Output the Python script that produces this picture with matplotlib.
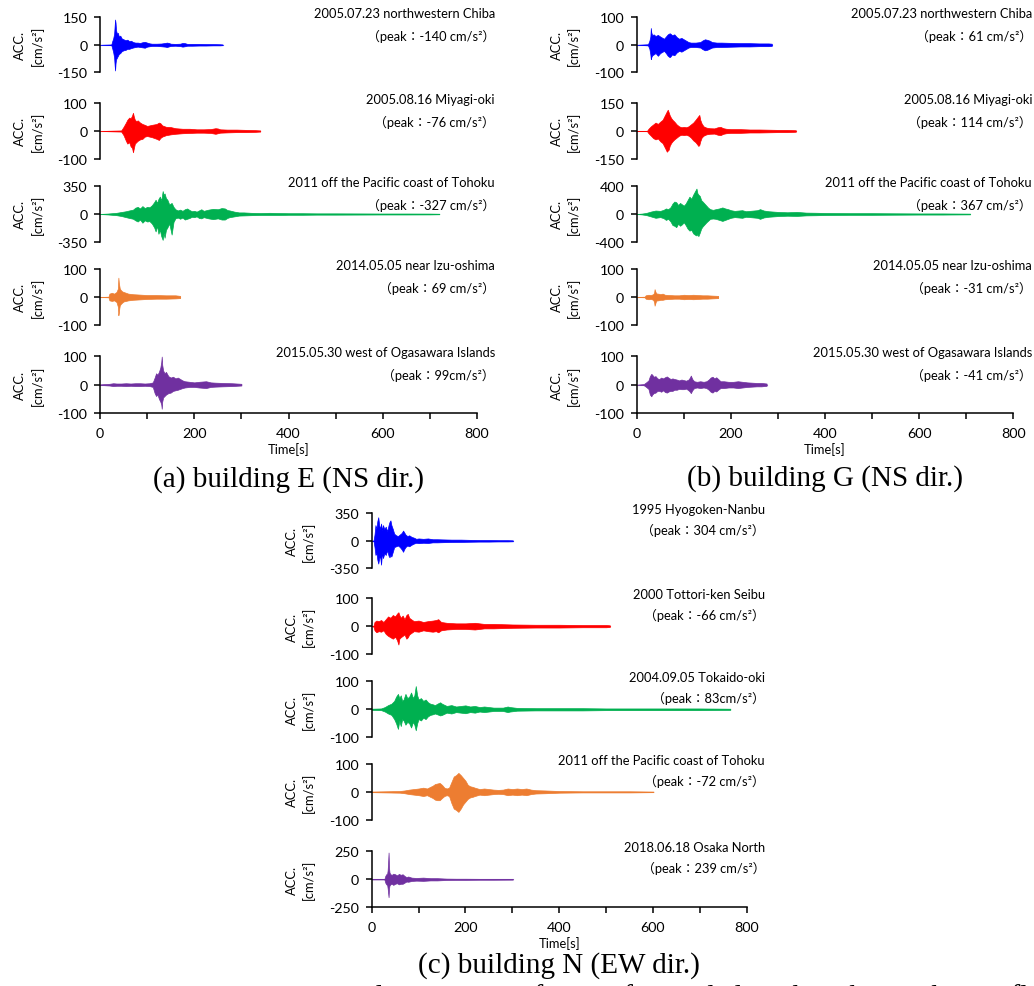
import matplotlib
matplotlib.use("Agg")
import matplotlib.pyplot as plt

W, H = 1034, 987
SANS = ['Lato', 'Noto Sans CJK JP', 'DejaVu Sans']
SERIF = ['Liberation Serif', 'DejaVu Serif']
plt.rcParams['font.family'] = SANS

BLUE, RED, GREEN, ORANGE, PURPLE = '#0000FF', '#FF0000', '#00B050', '#ED7D31', '#7030A0'

# ---------------- (a) building E (NS) ----------------
e1_t = [0, 24, 26, 28, 30, 31, 32, 33, 34, 36, 38, 40, 43, 46, 50, 54, 58, 62, 66, 70, 75, 80, 85, 90, 95, 100, 105, 110, 120, 130, 138, 142, 146, 150, 160, 170, 175, 180, 185, 195, 210, 225, 240, 255, 260]
e1_up = [0, 2, 20, 35, 60, 100, 138, 120, 80, 60, 65, 45, 50, 35, 30, 25, 28, 20, 22, 15, 12, 12, 10, 14, 16, 12, 8, 6, 6, 7, 10, 12, 10, 6, 5, 6, 10, 9, 5, 5, 5, 4, 4, 3, 2]
e1_lo = [0, -2, -20, -40, -70, -110, -140, -100, -80, -70, -60, -50, -45, -35, -30, -28, -22, -22, -18, -15, -12, -10, -12, -14, -16, -10, -8, -6, -6, -8, -10, -12, -9, -6, -5, -7, -10, -8, -5, -5, -4, -4, -3, -3, -2]

e2_t = [0, 45, 50, 55, 58, 62, 65, 68, 70, 72, 74, 77, 80, 85, 90, 95, 100, 110, 120, 125, 128, 132, 140, 150, 160, 175, 190, 205, 220, 235, 245, 250, 255, 270, 290, 310, 330, 340]
e2_up = [0, 2, 15, 30, 40, 48, 45, 55, 65, 50, 40, 35, 38, 30, 25, 22, 18, 22, 25, 30, 28, 20, 15, 14, 10, 8, 8, 6, 6, 7, 10, 9, 6, 5, 5, 4, 3, 2]
e2_lo = [0, -2, -15, -35, -45, -40, -55, -60, -76, -60, -45, -40, -35, -30, -28, -20, -18, -22, -28, -32, -25, -20, -15, -12, -10, -8, -7, -6, -6, -7, -10, -8, -6, -5, -4, -4, -3, -2]

e3_t = [0, 15, 25, 35, 45, 55, 62, 70, 75, 80, 85, 90, 95, 100, 105, 110, 115, 118, 121, 124, 127, 130, 133, 135, 137, 140, 143, 147, 152, 156, 160, 165, 170, 175, 180, 185, 190, 195, 200, 205, 210, 215, 220, 230, 240, 250, 258, 265, 270, 275, 285, 295, 305, 320, 340, 360, 380, 400, 430, 460, 500, 550, 600, 650, 700, 720]
e3_up = [0, 5, 10, 15, 25, 35, 45, 55, 80, 90, 70, 100, 75, 90, 85, 110, 150, 180, 140, 190, 220, 170, 290, 240, 260, 200, 180, 120, 140, 90, 60, 45, 55, 40, 60, 70, 50, 35, 40, 30, 45, 60, 40, 55, 65, 60, 75, 70, 50, 45, 30, 20, 20, 15, 12, 15, 12, 10, 10, 8, 8, 7, 6, 6, 5, 3]
e3_lo = [0, -5, -10, -15, -25, -40, -50, -60, -80, -95, -70, -110, -80, -95, -90, -120, -170, -220, -150, -250, -200, -280, -327, -240, -300, -200, -170, -120, -260, -100, -55, -45, -60, -45, -70, -60, -50, -35, -40, -30, -50, -55, -40, -55, -65, -55, -70, -70, -50, -40, -30, -20, -18, -15, -12, -12, -12, -10, -10, -8, -8, -7, -6, -6, -5, -3]

e4_t = [0, 18, 20, 25, 30, 35, 38, 39, 40, 41, 42, 44, 47, 50, 55, 60, 70, 80, 90, 100, 120, 140, 160, 170]
e4_up = [0, 1, 12, 15, 12, 18, 30, 69, 50, 40, 30, 25, 20, 18, 15, 12, 10, 9, 8, 7, 7, 6, 6, 4]
e4_lo = [0, -1, -12, -14, -12, -18, -35, -65, -55, -40, -30, -25, -20, -16, -14, -12, -10, -9, -8, -7, -6, -6, -5, -4]

e5_t = [0, 10, 20, 28, 35, 45, 55, 65, 75, 85, 95, 105, 112, 116, 119, 122, 125, 128, 130, 131, 132, 134, 137, 140, 145, 150, 155, 160, 165, 170, 175, 180, 190, 200, 210, 225, 230, 235, 245, 260, 280, 300]
e5_up = [1, 2, 3, 5, 4, 4, 5, 4, 5, 5, 4, 5, 8, 25, 40, 35, 45, 60, 80, 99, 70, 50, 40, 45, 30, 25, 28, 22, 25, 20, 15, 12, 10, 8, 10, 12, 10, 8, 7, 6, 5, 3]
e5_lo = [-1, -2, -3, -5, -4, -4, -5, -4, -5, -5, -4, -5, -8, -30, -40, -35, -50, -60, -70, -85, -60, -45, -40, -35, -30, -28, -22, -20, -18, -15, -12, -10, -8, -8, -10, -12, -10, -8, -7, -6, -5, -3]

# ---------------- (b) building G (NS) ----------------
g1_t = [0, 24, 27, 29, 30, 31, 33, 36, 40, 45, 50, 55, 58, 62, 66, 70, 72, 75, 80, 85, 90, 95, 100, 105, 110, 115, 125, 135, 140, 145, 150, 155, 160, 170, 180, 200, 220, 240, 260, 280, 287]
g1_up = [0, 2, 15, 30, 61, 45, 35, 38, 32, 36, 30, 25, 22, 30, 38, 42, 40, 35, 38, 28, 22, 25, 20, 15, 10, 8, 8, 10, 16, 20, 18, 15, 10, 8, 8, 7, 6, 6, 5, 5, 4]
g1_lo = [0, -2, -15, -35, -52, -45, -38, -35, -30, -40, -30, -25, -22, -30, -40, -45, -42, -35, -38, -28, -22, -25, -20, -15, -10, -8, -8, -10, -16, -20, -18, -14, -10, -8, -8, -7, -6, -6, -5, -5, -4]

g2_t = [0, 22, 25, 30, 35, 40, 45, 50, 55, 58, 61, 64, 66, 68, 70, 73, 76, 80, 85, 90, 95, 100, 105, 110, 115, 120, 125, 128, 131, 133, 135, 138, 142, 148, 155, 165, 172, 178, 184, 190, 200, 220, 240, 260, 280, 300, 320, 338]
g2_up = [0, 1, 12, 25, 35, 45, 38, 50, 60, 75, 90, 105, 114, 100, 85, 70, 60, 50, 35, 25, 20, 22, 20, 25, 35, 45, 60, 70, 80, 86, 60, 40, 25, 18, 15, 14, 20, 22, 15, 12, 10, 10, 8, 8, 7, 6, 6, 4]
g2_lo = [0, -1, -12, -25, -38, -45, -40, -55, -65, -80, -95, -111, -105, -100, -80, -65, -55, -45, -35, -25, -20, -22, -20, -25, -35, -50, -60, -70, -80, -75, -55, -35, -25, -18, -15, -14, -20, -22, -15, -12, -10, -10, -8, -8, -7, -6, -6, -4]

g3_t = [0, 10, 20, 30, 40, 50, 57, 62, 67, 72, 76, 80, 84, 88, 92, 96, 100, 104, 108, 112, 116, 120, 124, 127, 129, 131, 134, 137, 140, 144, 148, 152, 156, 162, 168, 175, 182, 188, 194, 200, 208, 216, 224, 232, 240, 248, 256, 262, 270, 280, 300, 320, 340, 360, 380, 400, 450, 500, 550, 600, 650, 708]
g3_up = [0, 5, 15, 35, 50, 45, 60, 80, 70, 100, 150, 180, 170, 130, 160, 140, 120, 150, 200, 250, 220, 280, 330, 367, 300, 280, 260, 200, 180, 150, 120, 90, 70, 60, 70, 80, 95, 80, 70, 55, 45, 50, 55, 40, 45, 50, 55, 70, 50, 40, 30, 25, 30, 20, 18, 15, 12, 12, 10, 8, 8, 5]
g3_lo = [0, -5, -15, -35, -55, -45, -60, -85, -70, -110, -160, -170, -190, -140, -170, -150, -120, -160, -210, -240, -230, -280, -300, -310, -290, -320, -270, -210, -180, -150, -120, -95, -70, -65, -70, -85, -100, -85, -70, -55, -45, -50, -55, -40, -45, -50, -55, -70, -50, -40, -30, -25, -28, -20, -18, -15, -12, -12, -10, -8, -8, -5]

g4_t = [0, 17, 19, 25, 30, 35, 37, 38, 39, 40, 41, 43, 46, 50, 55, 60, 70, 80, 90, 100, 110, 120, 130, 140, 150, 160, 173]
g4_up = [0, 1, 6, 8, 7, 10, 15, 28, 22, 18, 15, 12, 12, 10, 12, 8, 7, 6, 6, 8, 7, 8, 7, 6, 6, 5, 4]
g4_lo = [0, -1, -6, -8, -7, -10, -18, -31, -25, -20, -15, -12, -12, -10, -10, -8, -7, -6, -6, -8, -7, -8, -7, -6, -6, -5, -4]

g5_t = [0, 15, 20, 25, 28, 31, 33, 36, 40, 44, 48, 52, 56, 60, 64, 68, 72, 76, 80, 85, 90, 95, 100, 105, 110, 113, 115, 118, 122, 128, 135, 142, 148, 153, 157, 161, 165, 169, 173, 178, 185, 195, 205, 215, 225, 235, 245, 255, 265, 276]
g5_up = [0, 2, 8, 15, 30, 38, 35, 28, 30, 22, 20, 25, 22, 26, 29, 24, 20, 22, 20, 18, 15, 18, 16, 14, 18, 25, 32, 20, 12, 10, 12, 10, 12, 18, 25, 28, 22, 26, 20, 12, 12, 10, 10, 12, 10, 8, 7, 6, 6, 4]
g5_lo = [0, -2, -8, -15, -35, -41, -35, -30, -28, -22, -22, -25, -20, -26, -28, -24, -22, -22, -18, -18, -15, -16, -16, -14, -20, -25, -30, -20, -12, -10, -12, -10, -12, -18, -25, -28, -22, -24, -18, -12, -12, -10, -10, -12, -10, -8, -7, -6, -6, -4]

# ---------------- (c) building N (EW) ----------------
n1_t = [0, 4, 6, 8, 10, 12, 14, 16, 18, 20, 22, 24, 27, 30, 33, 36, 38, 40, 42, 45, 48, 52, 56, 60, 64, 67, 69, 72, 76, 80, 85, 90, 95, 100, 110, 120, 130, 140, 150, 170, 190, 210, 230, 250, 270, 290, 301]
n1_up = [0, 5, 80, 200, 150, 250, 300, 200, 150, 220, 130, 200, 150, 180, 120, 200, 240, 260, 200, 150, 90, 70, 60, 80, 100, 130, 110, 80, 60, 70, 50, 40, 25, 30, 25, 30, 20, 20, 18, 15, 15, 12, 10, 10, 8, 8, 6]
n1_lo = [0, -5, -80, -180, -150, -240, -290, -220, -200, -304, -150, -220, -160, -180, -120, -190, -210, -180, -200, -140, -80, -70, -60, -80, -110, -140, -110, -80, -60, -70, -50, -35, -25, -30, -25, -28, -20, -20, -18, -15, -14, -12, -10, -10, -8, -8, -6]

n2_t = [0, 4, 6, 10, 15, 20, 25, 30, 35, 40, 45, 50, 54, 57, 59, 62, 66, 70, 74, 77, 80, 84, 90, 100, 110, 120, 130, 137, 142, 148, 160, 180, 200, 220, 240, 260, 280, 300, 350, 400, 450, 500, 508]
n2_up = [0, 2, 15, 20, 18, 22, 15, 25, 35, 30, 40, 35, 45, 50, 40, 30, 38, 25, 40, 44, 30, 25, 18, 20, 15, 18, 20, 22, 25, 15, 12, 10, 10, 12, 8, 8, 7, 6, 5, 5, 4, 4, 3]
n2_lo = [0, -2, -15, -22, -18, -20, -15, -28, -35, -40, -45, -38, -50, -66, -45, -40, -35, -30, -45, -40, -30, -25, -18, -20, -15, -18, -20, -18, -22, -15, -12, -10, -10, -12, -8, -8, -7, -6, -5, -5, -4, -4, -3]

n3_t = [0, 20, 28, 35, 42, 48, 52, 56, 59, 62, 65, 68, 72, 76, 80, 84, 88, 91, 94, 97, 100, 105, 110, 115, 120, 125, 130, 135, 140, 146, 150, 160, 170, 180, 190, 200, 210, 220, 230, 240, 260, 280, 290, 295, 310, 350, 400, 450, 500, 550, 600, 650, 700, 765]
n3_up = [2, 3, 8, 15, 20, 30, 45, 55, 40, 50, 30, 35, 55, 40, 45, 60, 40, 50, 83, 50, 35, 40, 30, 35, 25, 20, 18, 15, 20, 25, 20, 12, 15, 10, 12, 14, 10, 12, 8, 10, 6, 6, 10, 8, 5, 4, 4, 4, 3, 3, 3, 3, 3, 2]
n3_lo = [-2, -3, -8, -15, -20, -35, -50, -70, -40, -60, -35, -40, -55, -45, -50, -65, -45, -55, -75, -50, -35, -40, -30, -35, -25, -20, -18, -15, -18, -22, -20, -12, -15, -10, -12, -14, -10, -12, -8, -10, -6, -6, -10, -8, -5, -4, -4, -4, -3, -3, -3, -3, -3, -2]

n4_t = [0, 30, 60, 70, 80, 90, 100, 110, 118, 125, 130, 135, 140, 145, 150, 155, 160, 165, 170, 175, 180, 185, 190, 195, 200, 205, 210, 215, 220, 230, 240, 250, 260, 270, 280, 290, 300, 310, 320, 330, 340, 350, 370, 400, 450, 500, 550, 601]
n4_up = [1, 2, 3, 5, 8, 10, 12, 15, 12, 18, 22, 28, 30, 32, 25, 15, 12, 15, 35, 55, 60, 68, 60, 50, 40, 25, 20, 18, 15, 10, 12, 10, 8, 7, 8, 12, 10, 12, 10, 12, 8, 6, 5, 3, 2, 2, 2, 1]
n4_lo = [-1, -2, -3, -5, -8, -10, -12, -15, -12, -18, -22, -28, -30, -30, -22, -15, -12, -15, -40, -60, -65, -72, -60, -45, -35, -25, -20, -18, -15, -10, -12, -10, -8, -7, -8, -12, -10, -12, -10, -12, -8, -6, -5, -3, -2, -2, -2, -1]

n5_t = [0, 27, 29, 31, 33, 34, 35, 36, 37, 38, 40, 43, 46, 50, 54, 58, 62, 66, 70, 74, 78, 85, 95, 110, 125, 140, 160, 180, 200, 230, 260, 301]
n5_up = [0, 1, 30, 45, 50, 80, 150, 239, 100, 60, 45, 40, 50, 45, 35, 48, 40, 45, 30, 20, 25, 15, 12, 15, 10, 10, 6, 5, 5, 4, 4, 3]
n5_lo = [0, -1, -30, -45, -50, -80, -120, -160, -80, -55, -45, -40, -50, -40, -35, -45, -40, -40, -30, -20, -22, -15, -12, -14, -10, -10, -6, -5, -5, -4, -4, -3]

# titles, peaks, axis limits
titles_ns = ['2005.07.23 northwestern Chiba', '2005.08.16 Miyagi-oki',
             '2011 off the Pacific coast of Tohoku', '2014.05.05 near Izu-oshima',
             '2015.05.30 west of Ogasawara Islands']
titles_n = ['1995 Hyogoken-Nanbu', '2000 Tottori-ken Seibu', '2004.09.05 Tokaido-oki',
            '2011 off the Pacific coast of Tohoku', '2018.06.18 Osaka North']
peaks_e = ['-140 cm/s²', '-76 cm/s²', '-327 cm/s²', '69 cm/s²', '99cm/s²']
peaks_g = ['61 cm/s²', '114 cm/s²', '367 cm/s²', '-31 cm/s²', '-41 cm/s²']
peaks_n = ['304 cm/s²', '-66 cm/s²', '83cm/s²', '-72 cm/s²', '239 cm/s²']
lims_e = [150, 100, 350, 100, 100]
lims_g = [100, 150, 400, 100, 100]
lims_n = [350, 100, 100, 100, 250]
colors = [BLUE, RED, GREEN, ORANGE, PURPLE]
xticks = [0, 100, 200, 300, 400, 500, 600, 700, 800]
xticklabels = ['0', '', '200', '', '400', '', '600', '', '800']

data_e = [(e1_t, e1_up, e1_lo), (e2_t, e2_up, e2_lo), (e3_t, e3_up, e3_lo), (e4_t, e4_up, e4_lo), (e5_t, e5_up, e5_lo)]
data_g = [(g1_t, g1_up, g1_lo), (g2_t, g2_up, g2_lo), (g3_t, g3_up, g3_lo), (g4_t, g4_up, g4_lo), (g5_t, g5_up, g5_lo)]
data_n = [(n1_t, n1_up, n1_lo), (n2_t, n2_up, n2_lo), (n3_t, n3_up, n3_lo), (n4_t, n4_up, n4_lo), (n5_t, n5_up, n5_lo)]

fig = plt.figure(figsize=(W / 100, H / 100), dpi=100)
FS = 9.3
CAP = 21


def fx(x):
    return x / W


def fy(y):
    return 1 - y / H


def panel(x0, x1, tops, bots, data, lims, titles, peaks, text_right, gap2, caption, cap_y):
    for i in range(5):
        ax = fig.add_axes([fx(x0), fy(bots[i]), fx(x1 - x0), (bots[i] - tops[i]) / H])
        t, up, lo = data[i]
        c = colors[i]
        ax.plot([0, t[-1]], [0, 0], color=c, lw=0.8, alpha=0.6)
        ax.fill_between(t, lo, up, color=c, lw=0.5, edgecolor=c)
        L = lims[i]
        ax.set_xlim(0, 800)
        ax.set_ylim(-L, L)
        ax.set_yticks([-L, 0, L])
        ax.set_yticklabels([str(-L), '0', str(L)])
        for s in ['top', 'right']:
            ax.spines[s].set_visible(False)
        ax.spines['left'].set_linewidth(1.1)
        ax.tick_params(axis='y', direction='out', length=4, width=1.1, labelsize=FS + 1, pad=5)
        if i < 4:
            ax.spines['bottom'].set_visible(False)
            ax.set_xticks([])
        else:
            ax.spines['bottom'].set_linewidth(1.1)
            ax.set_xticks(xticks)
            ax.set_xticklabels(xticklabels)
            ax.tick_params(axis='x', direction='out', length=4, width=1.1, labelsize=FS + 1, pad=6)
            ax.set_xlabel('Time[s]', fontsize=FS, labelpad=2)
        ymid = (tops[i] + bots[i]) / 2
        fig.text(fx(x0 - 80), fy(ymid), 'ACC.', rotation=90, ha='center', va='center', fontsize=FS)
        fig.text(fx(x0 - 63), fy(ymid), '[cm/s²]', rotation=90, ha='center', va='center', fontsize=FS)
        fig.text(fx(text_right), fy(tops[i] - 4), titles[i], ha='right', va='center', fontsize=FS)
        fig.text(fx(text_right), fy(tops[i] + gap2), '（peak：' + peaks[i] + '）', ha='right', va='center', fontsize=FS)
    fig.text(fx((x0 + x1) / 2), fy(cap_y), caption, ha='center', va='center', fontsize=CAP, family=SERIF)


tops_ab = [18.3, 104, 187.3, 270, 357.3]
bots_ab = [73.3, 160, 242.7, 326, 414]
tops_c = [514.3, 599.3, 682.3, 765, 852.3]
bots_c = [569.3, 655, 738.3, 820.7, 908.3]

panel(100, 477, tops_ab, bots_ab, data_e, lims_e, titles_ns, peaks_e, 495, 18, '(a) building E (NS dir.)', 480)
panel(636.7, 1013.3, tops_ab, bots_ab, data_g, lims_g, titles_ns, peaks_g, 1032, 18, '(b) building G (NS dir.)', 479)
panel(371.7, 746.7, tops_c, bots_c, data_n, lims_n, titles_n, peaks_n, 765, 16.5, '(c) building N (EW dir.)', 966)

fig.text(fx(228), fy(998), 'Fig. 3   Acceleration waveforms of recorded earthquakes at the top floors',
         ha='left', va='center', fontsize=CAP, family=SERIF)

fig.savefig('out.png', dpi=100)
